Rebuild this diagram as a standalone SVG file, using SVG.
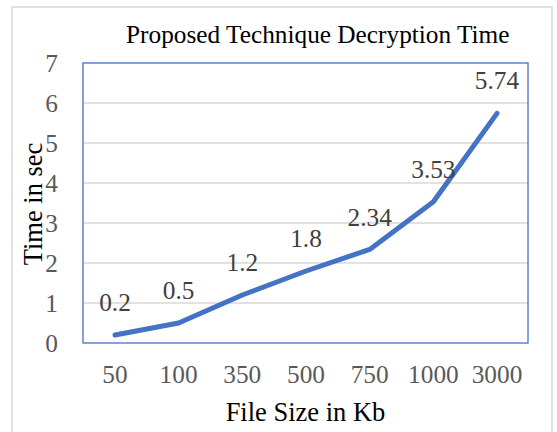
<svg xmlns="http://www.w3.org/2000/svg" width="557" height="432" viewBox="0 0 557 432">
<style>
.tick{font-family:"Liberation Serif",serif;font-size:25.3px;fill:#595959}
.dl{font-family:"Liberation Serif",serif;font-size:25.3px;fill:#404040;text-anchor:middle}
.title{font-family:"Liberation Serif",serif;font-size:25.3px;fill:#000}
.axt{font-family:"Liberation Serif",serif;font-size:26.5px;fill:#000;text-anchor:middle}
.grid{stroke:#D9D9D9;stroke-width:1.3}
</style>
<rect x="0" y="0" width="557" height="432" fill="#fff"/>
<rect id="chart-border" x="12" y="7" width="540" height="440" fill="#fff" stroke="#D9D9D9" stroke-width="1.5"/>
<text id="title" class="title" x="126" y="43">Proposed Technique Decryption Time</text>
<g id="gridlines">
<line class="grid" x1="83" y1="103" x2="528" y2="103"/>
<line class="grid" x1="83" y1="143" x2="528" y2="143"/>
<line class="grid" x1="83" y1="183" x2="528" y2="183"/>
<line class="grid" x1="83" y1="223" x2="528" y2="223"/>
<line class="grid" x1="83" y1="263" x2="528" y2="263"/>
<line class="grid" x1="83" y1="303" x2="528" y2="303"/>
</g>
<rect id="plot-area" x="83" y="63" width="445" height="280" fill="none" stroke="#4472C4" stroke-width="1.3"/>
<g id="y-ticks" text-anchor="end">
<text class="tick" x="58" y="352">0</text>
<text class="tick" x="58" y="312">1</text>
<text class="tick" x="58" y="272">2</text>
<text class="tick" x="58" y="232">3</text>
<text class="tick" x="58" y="192">4</text>
<text class="tick" x="58" y="152">5</text>
<text class="tick" x="58" y="112">6</text>
<text class="tick" x="58" y="72">7</text>
</g>
<g id="x-ticks" text-anchor="middle">
<text class="tick" x="115" y="383">50</text>
<text class="tick" x="178.6" y="383">100</text>
<text class="tick" x="242.3" y="383">350</text>
<text class="tick" x="306" y="383">500</text>
<text class="tick" x="369.7" y="383">750</text>
<text class="tick" x="433.4" y="383">1000</text>
<text class="tick" x="497" y="383">3000</text>
</g>
<text id="x-title" class="axt" x="305.5" y="421">File Size in Kb</text>
<text id="y-title" class="axt" transform="translate(42,204) rotate(-90)" x="0" y="0">Time in sec</text>
<g id="connectors">
<polyline fill="none" stroke="#4472C4" stroke-width="5" stroke-linecap="round" stroke-linejoin="round" points="115,335 178.6,323 242.3,295 306,271 369.7,249.4 433.4,201.8 497,113.4"/>
</g>
<g id="data-labels">
<text class="dl" x="115" y="311">0.2</text>
<text class="dl" x="178.6" y="299">0.5</text>
<text class="dl" x="242.3" y="271">1.2</text>
<text class="dl" x="306" y="247">1.8</text>
<text class="dl" x="369.7" y="226">2.34</text>
<text class="dl" x="433.4" y="178">3.53</text>
<text class="dl" x="497" y="89">5.74</text>
</g>
</svg>
